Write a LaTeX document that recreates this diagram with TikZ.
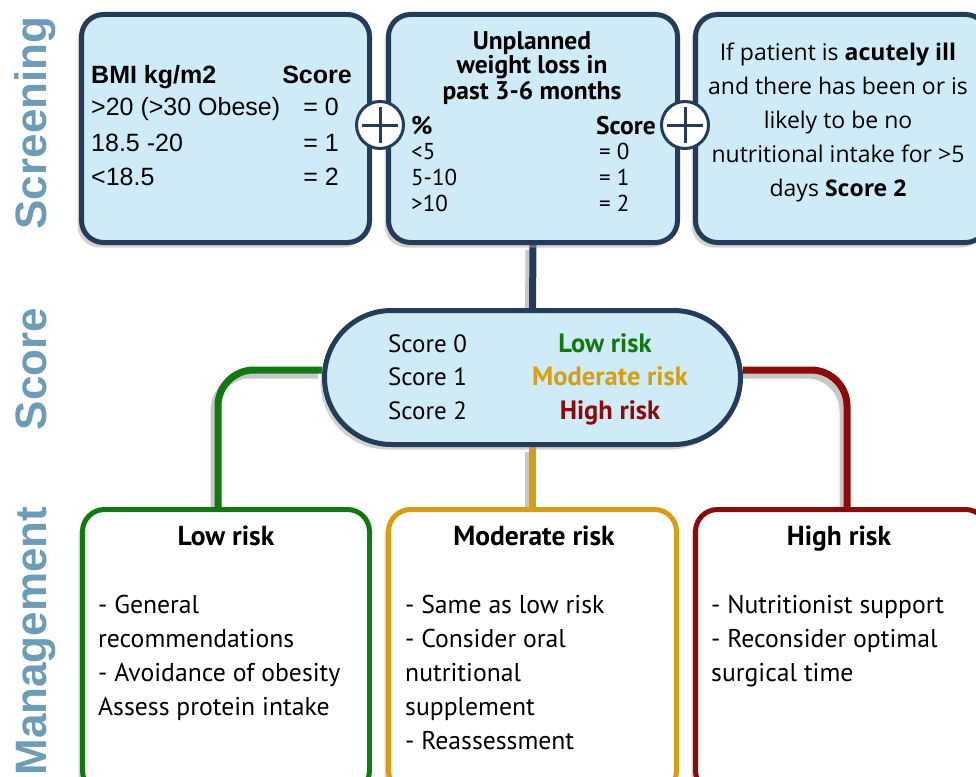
\documentclass[tikz,border=0pt]{standalone}
\usepackage{fontspec}
\setmainfont{PT Sans}
\newfontfamily\arialf{Liberation Sans}
\newfontfamily\osans{Open Sans}
\usetikzlibrary{shadows,backgrounds,calc}
\definecolor{navy}{HTML}{243B5A}
\definecolor{lblue}{HTML}{CFEBF7}
\definecolor{sidec}{HTML}{6C9CB6}
\definecolor{rgreen}{HTML}{12780F}
\definecolor{rgold}{HTML}{D69E10}
\definecolor{rred}{HTML}{8C0A0A}
\begin{document}
\begin{tikzpicture}[x=1pt,y=-1pt,
  shad/.style={drop shadow={shadow xshift=-4pt,shadow yshift=-5pt,fill=black!35,opacity=0.5}},
  scrbox/.style={draw=navy,line width=5pt,fill=lblue,rounded corners=22pt,inner sep=0,minimum width=288pt,minimum height=228pt,shad},
  mgbox/.style={draw=#1,line width=5pt,fill=white,rounded corners=22pt,inner sep=0,minimum width=287pt,minimum height=283pt,shad},
  pillbox/.style={draw=navy,line width=5pt,fill=lblue,rounded corners=67pt,inner sep=0,minimum width=416pt,minimum height=134pt,shad},
  plusc/.style={circle,draw=navy,line width=3pt,fill=white,minimum size=47pt,inner sep=0,
    path picture={\draw[navy,line width=3pt]
      ([xshift=-18pt]path picture bounding box.center) -- ([xshift=18pt]path picture bounding box.center)
      ([yshift=-18pt]path picture bounding box.center) -- ([yshift=18pt]path picture bounding box.center);}},
  sidelbl/.style={rotate=90,anchor=base,text=sidec,font=\arialf\bfseries\fontsize{44}{44}\selectfont,inner sep=0},
  arl/.style={inner sep=0,font=\arialf\fontsize{25}{30}\selectfont},
  wlt/.style={inner sep=0,font=\fontsize{23}{25}\selectfont},
  wlb/.style={inner sep=0,font=\bfseries\fontsize{25.5}{25}\selectfont},
  ost/.style={inner sep=0,anchor=base,font=\osans\fontsize{23}{30}\selectfont},
  pilt/.style={inner sep=0,font=\fontsize{25}{30}\selectfont},
  pilb/.style={inner sep=0,anchor=base,font=\bfseries\fontsize{26.5}{30}\selectfont},
  mgt/.style={inner sep=0,font=\fontsize{25.7}{30}\selectfont},
  mgb/.style={inner sep=0,anchor=base,font=\bfseries\fontsize{27.5}{30}\selectfont},
  conn/.style={line width=7pt},
  connshadow/.style={line width=7pt,black!22}
]
\useasboundingbox (0,0) rectangle (976,776);

% side labels
\node[sidelbl] (lscr) at (46,123) {Screening};
\node[sidelbl] (lsco) at (46,369) {Score};
\node[sidelbl] (lman) at (46,641) {Management};

% screening boxes
\node[scrbox] (bmi) at (225.5,128.5) {};
\node[scrbox,minimum width=289pt] (wl) at (533,128.5) {};
\node[scrbox,minimum width=292pt] (ill) at (841.5,128.5) {};
\node[plusc] (p1) at (380,125) {};
\node[plusc] (p2) at (685,125) {};

% score pill
\node[pillbox] (pill) at (532.5,377.5) {};

% management boxes
\node[mgbox=rgreen] (low) at (226,651) {};
\node[mgbox=rgold,minimum width=288pt] (mod) at (532.5,651) {};
\node[mgbox=rred,minimum width=292pt] (high) at (841.5,651) {};

% connectors
\begin{scope}[on background layer]
  \begin{scope}[transform canvas={shift={(-4pt,-5pt)}}]
    \draw[connshadow] (wl.south) -- (pill.north);
    \draw[connshadow,rounded corners=36pt] ([yshift=7.5pt]pill.west) -| ([xshift=-8pt]low.north);
    \draw[connshadow,rounded corners=36pt] ([yshift=7.5pt]pill.east) -| ([xshift=5.5pt]high.north);
    \draw[connshadow] (pill.south) -- (mod.north);
  \end{scope}
  \draw[conn,navy] (wl.south) -- (pill.north);
  \draw[conn,rgreen,rounded corners=36pt] ([yshift=7.5pt]pill.west) -| ([xshift=-8pt]low.north);
  \draw[conn,rred,rounded corners=36pt] ([yshift=7.5pt]pill.east) -| ([xshift=5.5pt]high.north);
  \draw[conn,rgold] (pill.south) -- (mod.north);
\end{scope}

% BMI box text
\node[arl,anchor=base west] (bmih) at (91,83) {\bfseries BMI kg/m2};
\node[arl,anchor=base east] (bmis) at (352,83) {\bfseries Score};
\node[arl,anchor=base west] (bmi1) at (91,115) {>20 (>30 Obese)};
\node[arl,anchor=base west] (bmi2) at (91,151) {18.5 -20};
\node[arl,anchor=base west] (bmi3) at (91,185) {<18.5};
\node[arl,anchor=base east] (bmiv1) at (339,115) {= 0};
\node[arl,anchor=base east] (bmiv2) at (339,151) {= 1};
\node[arl,anchor=base east] (bmiv3) at (339,185) {= 2};

% weight loss box text
\node[wlb,anchor=base] (wlt1) at (532,49) {Unplanned};
\node[wlb,anchor=base] (wlt2) at (532,74) {weight loss in};
\node[wlb,anchor=base] (wlt3) at (532,99) {past 3-6 months};
\node[wlb,anchor=base west] (wlh) at (411,134) {\%};
\node[wlb,anchor=base east] (wls) at (656,134) {Score};
\node[wlt,anchor=base west] (wl1) at (411,159) {<5};
\node[wlt,anchor=base west] (wl2) at (411,185) {5-10};
\node[wlt,anchor=base west] (wl3) at (411,211) {>10};
\node[wlt,anchor=base west] (wlv1) at (599,159) {= 0};
\node[wlt,anchor=base west] (wlv2) at (599,185) {= 1};
\node[wlt,anchor=base west] (wlv3) at (599,211) {= 2};

% acutely ill box text
\node[ost] (il1) at (838,60) {If patient is \textbf{acutely ill}};
\node[ost] (il2) at (838,94) {and there has been or is};
\node[ost] (il3) at (838,128) {likely to be no};
\node[ost] (il4) at (838,162) {nutritional intake for >5};
\node[ost] (il5) at (838,196) {days \textbf{Score 2}};

% pill text
\node[pilt,anchor=base west] (s0) at (388,352) {Score 0};
\node[pilt,anchor=base west] (s1) at (388,385) {Score 1};
\node[pilt,anchor=base west] (s2) at (388,419) {Score 2};
\node[pilb,text=rgreen] (r0) at (605,352) {Low risk};
\node[pilb,text=rgold] (r1) at (610,385) {Moderate risk};
\node[pilb,text=rred] (r2) at (610,419) {High risk};

% management text
\node[mgb] (lowt) at (226,545) {Low risk};
\node[mgb] (modt) at (534,545) {Moderate risk};
\node[mgb] (hight) at (839,545) {High risk};

\node[mgt,anchor=base west] (lo1) at (98,613) {- General};
\node[mgt,anchor=base west] (lo2) at (98,647) {recommendations};
\node[mgt,anchor=base west] (lo3) at (98,681) {- Avoidance of obesity};
\node[mgt,anchor=base west] (lo4) at (98,715) {Assess protein intake};

\node[mgt,anchor=base west] (mo1) at (405,613) {- Same as low risk};
\node[mgt,anchor=base west] (mo2) at (405,647) {- Consider oral};
\node[mgt,anchor=base west] (mo3) at (405,681) {nutritional};
\node[mgt,anchor=base west] (mo4) at (405,715) {supplement};
\node[mgt,anchor=base west] (mo5) at (405,749) {- Reassessment};

\node[mgt,anchor=base west] (hi1) at (711,613) {- Nutritionist support};
\node[mgt,anchor=base west] (hi2) at (711,647) {- Reconsider optimal};
\node[mgt,anchor=base west] (hi3) at (711,681) {surgical time};
\end{tikzpicture}
\end{document}
